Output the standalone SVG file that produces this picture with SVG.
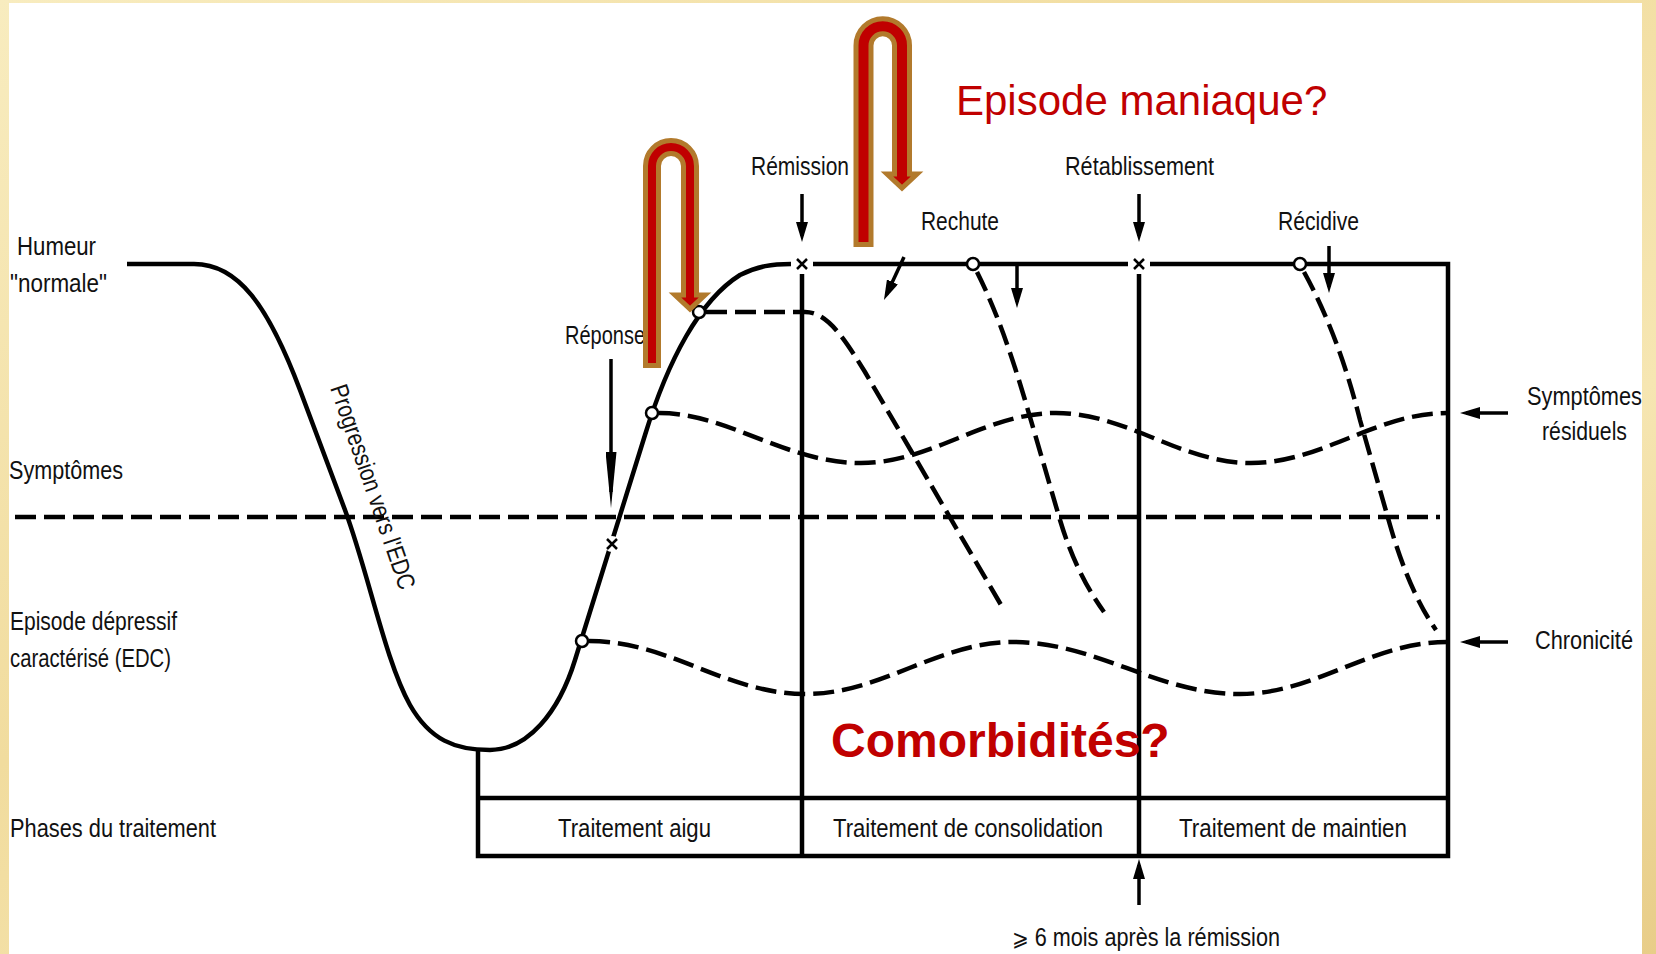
<svg xmlns="http://www.w3.org/2000/svg" width="1656" height="954" viewBox="0 0 1656 954">
<defs>
<linearGradient id="parch" x1="0" y1="0" x2="1" y2="1">
<stop offset="0" stop-color="#f8ecbf"/>
<stop offset="0.4" stop-color="#f1dc9e"/>
<stop offset="0.7" stop-color="#f6e6b2"/>
<stop offset="1" stop-color="#e8cd88"/>
</linearGradient>
<marker id="ah" markerUnits="userSpaceOnUse" markerWidth="20" markerHeight="12" refX="14" refY="6" orient="auto">
<path d="M0,0 L20,6 L0,12 Z" fill="#000"/>
</marker>
<marker id="ahl" markerUnits="userSpaceOnUse" markerWidth="56" markerHeight="11" refX="40" refY="5.5" orient="auto">
<path d="M0,0 L56,5.5 L0,11 Z" fill="#000"/>
</marker>
<style>
.lbl{font-family:"Liberation Sans Narrow","Liberation Sans",Arial,sans-serif;font-size:25px;fill:#111;}
.ln{fill:none;stroke:#000;stroke-width:4.5;}
.ds{fill:none;stroke:#000;stroke-width:4.5;stroke-dasharray:21 8;}
.ar{fill:none;stroke:#000;stroke-width:3.5;marker-end:url(#ah);}
.x{stroke:#000;stroke-width:2.5;}
.pt{fill:#fff;stroke:#000;stroke-width:2.5;}
.red{font-family:"Liberation Sans",Arial,sans-serif;fill:#c00000;}
.uarr{fill:#c00000;stroke:#b27a2c;stroke-width:5;stroke-linejoin:miter;}
</style>
</defs>
<rect x="0" y="0" width="1656" height="954" fill="url(#parch)"/>
<rect x="9" y="3" width="1633" height="951" fill="#fff"/>

<g id="axes">
<text class="lbl" x="17" y="255" textLength="79" lengthAdjust="spacingAndGlyphs">Humeur</text>
<text class="lbl" x="10" y="292" textLength="97" lengthAdjust="spacingAndGlyphs">"normale"</text>
<text class="lbl" x="9" y="479" textLength="114" lengthAdjust="spacingAndGlyphs">Symptômes</text>
<text class="lbl" x="10" y="630" textLength="167" lengthAdjust="spacingAndGlyphs">Episode dépressif</text>
<text class="lbl" x="10" y="667" textLength="161" lengthAdjust="spacingAndGlyphs">caractérisé (EDC)</text>
<text class="lbl" x="10" y="837" textLength="206" lengthAdjust="spacingAndGlyphs">Phases du traitement</text>
</g>

<g id="frame">
<path class="ln" d="M813,264 H1128 M1150,264 H1448 V856 H478 V750 M478,798 H1448 M802,274 V856 M1139,274 V856"/>
</g>

<g id="threshold">
<path class="ds" d="M15,517 H1440"/>
</g>

<g id="course">
<path class="ln" d="M127,264 H194 C238,264 268,305 300,390 L345,510 C369,575 385,660 410,705 C430,740 455,750 490,750 C528,750 559,712 575,660 L645,435 C668,360 700,300 740,275 C758,266 772,264 791,264"/>
<text class="lbl" transform="translate(330,388) rotate(71)" font-size="24" textLength="215" lengthAdjust="spacingAndGlyphs">Progression vers l'EDC</text>
</g>

<g id="outcomes">
<path class="ds" d="M706,312 H805 C828,312 845,340 865,372 L1004,610"/>
<path class="ds" d="M659,413 C728,413 785,463 861,463 C932,463 985,413 1056,413 C1127,413 1180,463 1251,463 C1322,463 1376,413 1447,413"/>
<path class="ds" d="M589,641 C670,641 725,694 806,694 C881,694 938,642 1013,642 C1096,642 1157,694 1240,694 C1315,694 1371,642 1447,642"/>
<path class="ds" d="M977,272 C996,310 1010,350 1025,400 L1060,520 C1072,560 1088,590 1104,612"/>
<path class="ds" d="M1304,272 C1325,310 1345,360 1360,420 L1390,525 C1400,560 1415,600 1436,630"/>
</g>

<g id="marks">
<path class="x" d="M797,259 L807,269 M807,259 L797,269"/>
<path class="x" d="M1134,259 L1144,269 M1144,259 L1134,269"/>
<circle cx="612" cy="544" r="8" fill="#fff"/>
<path class="x" d="M607,539 L617,549 M617,539 L607,549"/>
<circle class="pt" cx="699" cy="312" r="6"/>
<circle class="pt" cx="652" cy="413" r="6"/>
<circle class="pt" cx="582" cy="641" r="6"/>
<circle class="pt" cx="973" cy="264" r="6"/>
<circle class="pt" cx="1300" cy="264" r="6"/>
</g>

<g id="phases">
<text class="lbl" x="558" y="837" textLength="153" lengthAdjust="spacingAndGlyphs">Traitement aigu</text>
<text class="lbl" x="833" y="837" textLength="270" lengthAdjust="spacingAndGlyphs">Traitement de consolidation</text>
<text class="lbl" x="1179" y="837" textLength="228" lengthAdjust="spacingAndGlyphs">Traitement de maintien</text>
</g>

<g id="event-labels">
<text class="lbl" x="565" y="344" textLength="80" lengthAdjust="spacingAndGlyphs">Réponse</text>
<text class="lbl" x="751" y="175" textLength="98" lengthAdjust="spacingAndGlyphs">Rémission</text>
<text class="lbl" x="921" y="230" textLength="78" lengthAdjust="spacingAndGlyphs">Rechute</text>
<text class="lbl" x="1065" y="175" textLength="149" lengthAdjust="spacingAndGlyphs">Rétablissement</text>
<text class="lbl" x="1278" y="230" textLength="81" lengthAdjust="spacingAndGlyphs">Récidive</text>
<text class="lbl" x="1527" y="405" textLength="115" lengthAdjust="spacingAndGlyphs">Symptômes</text>
<text class="lbl" x="1542" y="440" textLength="85" lengthAdjust="spacingAndGlyphs">résiduels</text>
<text class="lbl" x="1535" y="649" textLength="98" lengthAdjust="spacingAndGlyphs">Chronicité</text>
<text class="lbl" x="1012" y="946" textLength="268" lengthAdjust="spacingAndGlyphs"><tspan font-family="DejaVu Sans" font-size="23">⩾</tspan> 6 mois après la rémission</text>
</g>

<g id="connectors">
<path class="ar" d="M802,194 V236"/>
<path class="ar" d="M1139,194 V236"/>
<path class="ar" d="M904,257 L886.5,294.6"/>
<path class="ar" d="M1017,264 V302"/>
<path class="ar" d="M1329,246 V287"/>
<path fill="none" stroke="#000" stroke-width="3.5" marker-end="url(#ahl)" d="M611,359 V492"/>
<path class="ar" d="M1508,413 H1466"/>
<path class="ar" d="M1508,642 H1466"/>
<path class="ar" d="M1139,905 V865"/>
</g>

<g id="maniac-arrow-small">
<path class="uarr" d="M645.5,365.5 V166 A25.5,25.5 0 0 1 696.5,166 V295 H705 L690,309 L675,295 H683.5 V166 A12.5,12.5 0 0 0 658.5,166 V365.5 Z"/>
</g>
<g id="maniac-arrow-big">
<path class="uarr" d="M856,244.5 V45.5 A26.75,26.75 0 0 1 909.5,45.5 V174 H917 L902,188 L887,174 H894.5 V45.5 A11.75,11.75 0 0 0 871,45.5 V244.5 Z"/>
</g>

<g id="questions">
<text class="red" x="956" y="115" font-size="42">Episode maniaque?</text>
<text class="red" x="831" y="757" font-size="48" font-weight="bold">Comorbidités?</text>
</g>
</svg>
